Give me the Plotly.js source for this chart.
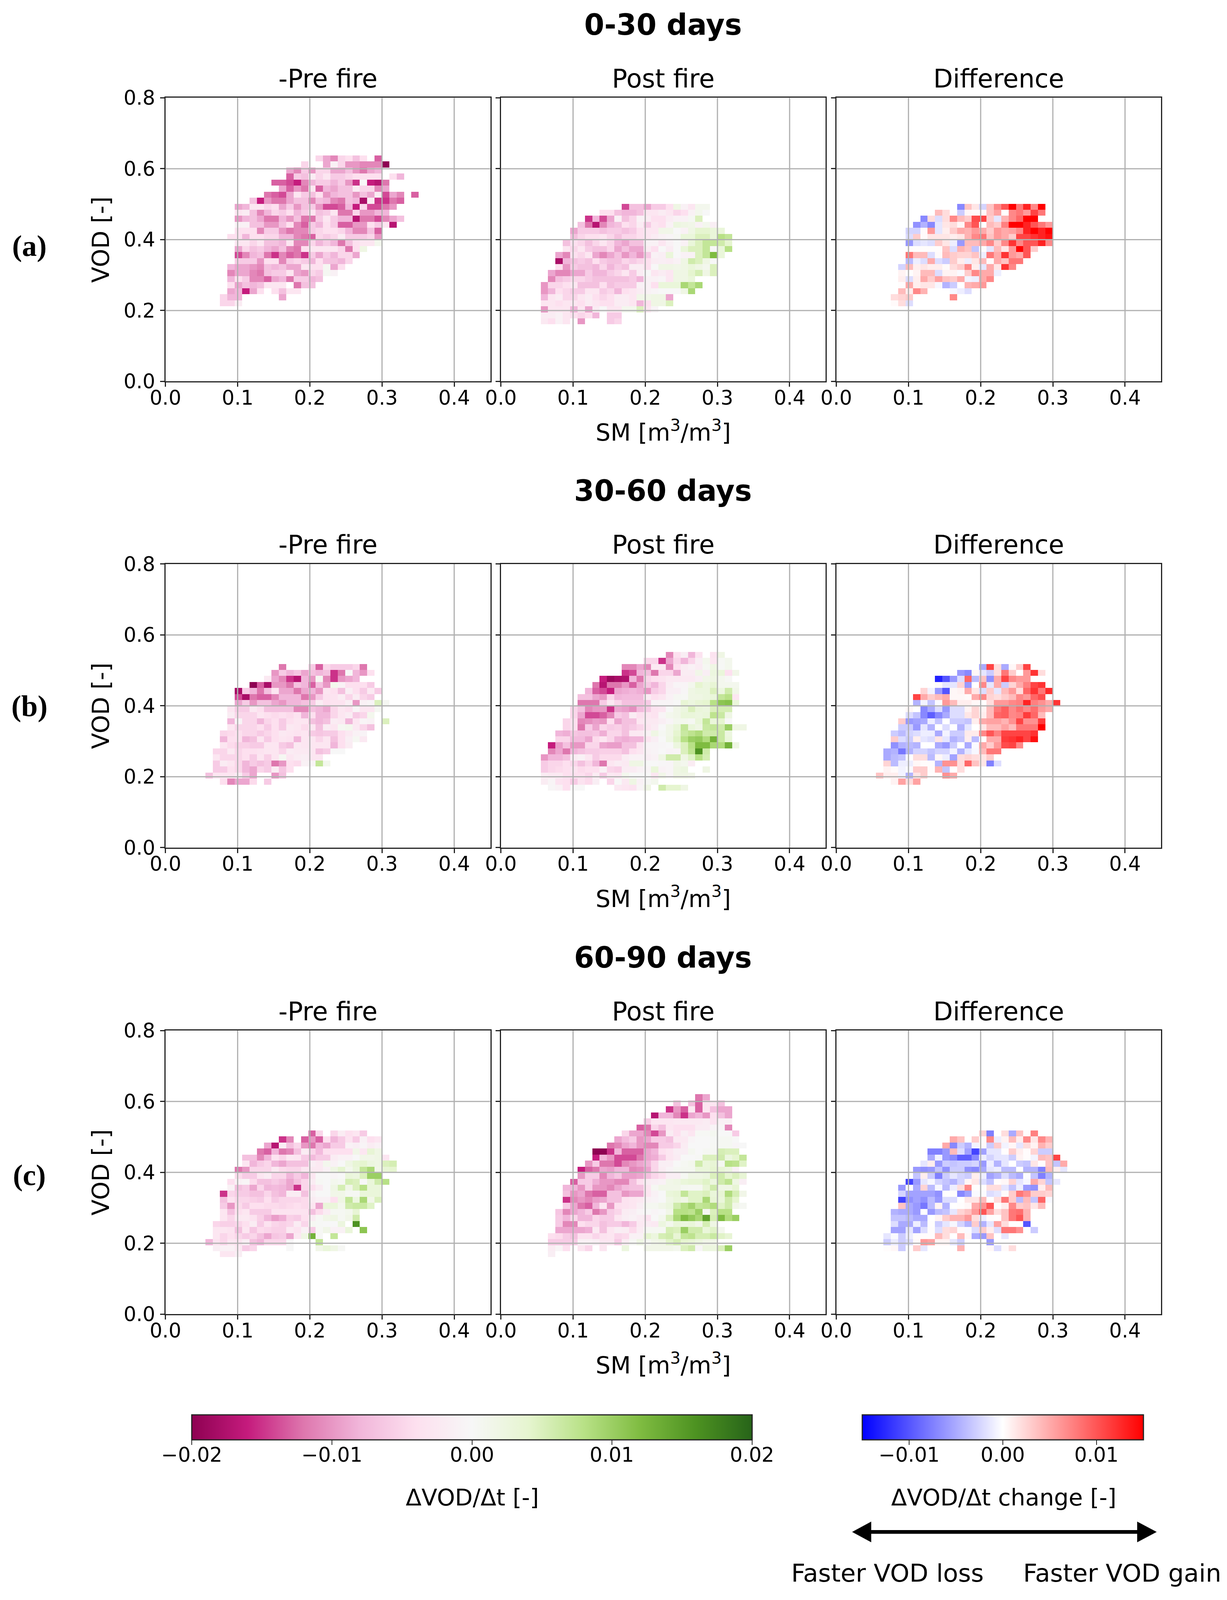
<!DOCTYPE html>
<html>
<head>
<meta charset="utf-8">
<script src="https://cdn.plot.ly/plotly-3.0.1.min.js"></script>
<style>html,body{margin:0;padding:0;background:#fff}</style>
</head>
<body>
<div id="plot"></div>
<script>
"use strict";
const _ = null;
// each row: [VOD bin, first SM bin, values in 0.001 units ...]
const preA = [
[36,20,-5,-9,-11,-5,-4,-7,-4,_,-13],
[35,18,-5,_,_,-9,-1,-5,-10,-10,-11,-11,-11,-20],
[34,16,-9,-11,-6,-10,-5,-5,-9,-9,-7,-10,-12,-9,-8],
[33,16,-13,-6,-7,-2,-5,-3,-6,-6,-5,-4,-4,-4,-4,_,-4,-8],
[32,14,-13,-13,-14,-16,-11,-8,-6,-6,-8,-6,-10,-15,0,-16,-17,-12],
[31,15,-9,-13,-10,-12,-3,-13,-8,-9,-7,-7,-2,-5,-5,-11,-9],
[30,13,-12,-13,-14,-9,-3,-6,-7,-4,-10,-8,-7,-7,-10,-7,-9,-2,-14,-9,-11,_,-13],
[29,11,-7,-16,-10,-12,-12,-9,-7,-7,-11,-7,-8,-11,-12,-7,-8,-18,-2,-15,-15,-12,-13],
[28,9,-9,-8,-3,-3,-5,-4,-9,-6,-10,-7,-6,-10,-14,-14,-13,-8,-16,-5,-14,-14,-12,-10],
[27,9,-3,-2,-7,-11,-8,-5,-6,-4,-8,-6,-3,-7,-6,-3,-12,-12,-5,-10,-10,-8,-8],
[26,9,-10,-8,-7,-9,-12,-12,-8,-10,-7,-12,-12,-6,-3,-6,-8,-8,-17,-12,-12,-14,-11,-9,-7],
[25,9,-1,-1,-7,-7,-10,-10,-7,-4,-11,-13,-6,-8,-4,-6,-13,-13,-10,-10,-4,-6,-3,-17],
[24,9,-4,-4,-4,-11,-6,-6,-10,-12,-11,-11,-6,-5,-4,-4,-5,-8,-11,-11,-7,-13],
[23,8,-4,-4,-8,-4,-4,-5,-5,-8,-8,-11,-12,-13,-5,-6,-5,-2,-6,-6,-6,-5,-10],
[22,9,-3,-3,-5,-3,-7,-7,-8,-3,-11,-11,-5,-8,-6,-8,-12,-7,-4,-3,-3,1],
[21,9,-9,-5,-7,-6,-8,-9,-7,-11,-12,-4,-3,-3,-3,-3,-5,-12,-4,2],
[20,9,-14,-11,-8,-7,-12,-15,-11,-13,-12,-15,-6,-9,-6,-8,-5,-5,-9],
[19,9,-6,-6,-6,-10,-4,-4,-11,-6,-5,-6,-8,-4,-7,-7,-8,-5],
[18,8,-8,-9,-9,-10,-11,-7,-8,-7,-9,-9,-3,-4,-4,0.5,-9,-4],
[17,8,-11,-9,-9,-11,-12,-7,-6,-6,-3,-9,-10,-5,-6,0.5,-1],
[16,8,-8,-4,-6,-11,-11,-13,-9,-8,-12,-6,-6,-8,-7],
[15,8,-4,-9,-7,-8,-7,-3,-3,-3,_,-12,-7,-7],
[14,8,-9,-8,-16,-9,-4,_,-4,-7,-3,-3],
[13,7,-5,-8,-8,_,_,_,_,_,-9],
[12,7,-5,-5,-2]
];
const postA = [
[28,16,-14,-7,-7,-9,-6,-6,-4,2,-1,-3,1,1],
[27,13,-4,-4,-7,-8,-8,-7,-3,-3,-2,-3,-5,-4,-1,1,0],
[26,11,-15,-8,-14,-9,-1,-7,-5,-1,-2,-4,-4,-2,-1,-1,0.5,5],
[25,10,-7,-12,-17,-11,-8,-7,-4,-5,-2,-6,-3,-4,-1,2.5,2,1.5,-1,1,-1.5],
[24,9,-9,-6,-6,-6,-7,-6,-6,-7,-6,-4,-3,-3,1.5,1.5,0,-1,2,4,4,3,3],
[23,9,-7,-5,-4,-4,-3,-5,-7,-5,-5,-4,-3,-2,-1,-0.5,0.5,3,3,5,5,3,8,7],
[22,8,-7,-4,-5,-7,-5,-3,-5,-8,-9,-7,-7,-1,-1,-3,-1,0,-1,3,5,7,7,6,4],
[21,8,-3,-5,-3,-6,-7,-7,-5,-9,-7,-9,-9,-2,-4,0,-2,0,3,5,5,7,0,3,8],
[20,7,-9,-11,-4,-5,-3,-9,-11,-9,-7,-10,-8,-10,-6,-1,-1.5,3,0,-1,-1,5,7,12,3],
[19,7,-18,-8,-7,-6,-7,-4,-6,-7,-7,-5,-6,-5,-4,-2,-1.5,-2,-1,2,6,5,2,0],
[18,7,-4,-10,-6,-7,-7,-8,-5,-8,-6,-7,-2,-2,-4,0,2,2,1.5,2,3,2,1,5],
[17,6,-9,-11,-11,-9,-9,-6,-8,-8,-6,-5,-3,-6,-2,0,-3,-2,-3,2,2,4,5.5,2,5],
[16,6,-11,-7,-6,-5,-5,-6,-7,-7,-7,-7,-7,-6,-8,-1,-1,-0.5,-3,2,2,3],
[15,5,-10,-5,-5,-4,-3,-7,-7,-7,-4,-7,-6,-6,-6,-1,-1,-4,3,3,3,9,7,9],
[14,5,-10,-8,-4,-5,-6,-6,-3,-3,-6,-5,-8,-4,-3,-2,-1,-0.5,0,0,0,2,9],
[13,5,-8,-3,-2,-5,-5,-3,-2,-4,-5,-4,-2,-2,-3,1.5,1.5,2,2,-9],
[12,5,-3,-3,-4,-3,-3,-4,-2,-3,-4,-4,-2,-2,-3,-8,-4,2,2,5],
[11,5,-10,-3,-3,-3,-8,-3,-9,-2,0,-3,-3,1,1,5,-3,-0.5],
[10,5,-2,-2,-1,-3,-4,-5,-4,-8,_,-6,-6],
[9,5,-2.5,-4,-1,-3,_,-10,_,_,_,-6,-5]
];
const diffA = [
[28,16,-7,3.5,1.5,-2.5,3.5,7,10,15,8,13,7,15],
[27,13,4,2,_,-3,0.5,0.3,0.3,3.5,5.5,0,7,8,6,11,8],
[26,11,-7,2,-2,2,7,4,3,10.5,11,3,-1.5,4.5,7,9,15,15],
[25,10,-6.5,-4.5,-7,-1.5,1.5,2,0.5,7,10,0,4,3,7.5,15,15,13,10,8,6],
[24,9,-2.5,-2.5,0.3,6,-1.5,1,3,5,4.5,6,5,3,6,5,5.5,7,13,15,13,15],
[23,9,-2,3,0.3,1.5,1.5,1.5,1,1.5,4.5,7,8,3.5,6,5,3,11,11,12,13,14],
[22,9,-6,-2,-1.5,-2,3,1.5,-1,-6,4,4,5,7,3,7,12,7,10,10,13,7],
[21,9,0.2,0.2,0.2,0.2,0.2,3.5,-2,4.5,3.5,-3.5,0.2,-1.5,4,1.5,6,15,10,3],
[20,9,8,4,4,-2,0.3,4,3,2.5,2.5,3.5,-1,8,5,12,6,5,10],
[19,9,-4,-1,-2,5,-2,-3,3,1,-1,1.5,4,0.3,5,3.5,8,8],
[18,8,-2.5,4,1,1.5,1,1,0.3,2,3,7,1,-1.5,5,1.5,12,7],
[17,8,0.7,0.1,0.7,4,4,-2,0.7,0.7,-0.3,3,7,5,5,-1],
[16,8,1,-2,1,5,3,5.5,3.5,3,5,-0.7,-1,5,7],
[15,8,0.1,5,1,1.5,1.5,-0.5,-4.5,-3,0,4.5,5,6],
[14,8,4,1,7,4.5,_,_,_,-0.5,-1,-2],
[13,7,2,2.5,3,_,_,_,_,_,7],
[12,7,0.3,2,-2]
];
const preB = [
[29,15,-12,_,_,_,-6,-13,-5,-6,-6,-6,-5,-12],
[28,14,-10,-6,-8,-6.5,-9,-7,-8,-7,-15,-12,0,-8,-10,-4],
[27,13,-2.5,-9,-11,-15,-17,-8,-10,0.5,-11,-15,-10,-9,-8],
[26,11,-20,-13,-18,-10,-10,-12,-7,-8,-13,-7,-10,1,-1,-4,-4,-4,-6],
[25,9,-18,-6,-8,-12,-7,-3,-9,-9,-12,-9,-8,-10,-3,-4,-7,-1.5,-4,-6,-2.5,-6],
[24,9,-14,-18,-12,-13,-13,-11,-8,-8,-8,-12,-10,-6,-3.5,-3.5,-2,-5,-2,-5,-6],
[23,9,-9,-6,-10,-7,-7,-9,-10,-8,-8,-7,-6,-2,-4,-3.5,-3.5,-1.5,-10,-1,-0.5,5,0.5],
[22,8,-3,-6,-6,-2.5,-4,-7,-7,-7,-7,-11,-11,-7,-8,-9,-5,-3,-4,-0.5,-3,-3,0.5],
[21,8,-2,-5,-5,-5,-3,-4,-4.5,-4,-4.5,-3.5,-8,-4,-8,-8,-5,-3,-2,-6,-5,1],
[20,8,-8,-0.5,-5,-5,-8,-5,-4,-6,-4,-3,-3,-7,-8,-7,-2,-2.5,-8,-3,-0.5,-1,_,5],
[19,8,-3,-5,-5,-5,-4,-6,-4,-6,-2.5,-3,-4.5,-3,-7,-2,-3,0.5,1,-2.5,-5,-7],
[18,7,-5,-4.5,-4,-5,-5,-6,-5,-4,-2.5,-3,-3.5,-3,-6,-6.5,-6,-6,-4,-2.5,-1,-0.7],
[17,7,-8,-4,-4,-8,-7,-3,-6,-4,-3,-3.5,-8,-3,-3,-5,-3,-7,-4,-1.5,0.5,-2.5],
[16,7,-3,-4.5,-5.5,-5.5,-6,-6,-3,-3,-6,-7,-2.5,-3,-3,-3,-3,-8,-4,-2],
[15,6,-5,-5,-2.5,-5,-4,-4,-3.5,-3,-3,-5,-2,-2.5,-2.5,-3,-7,-6,0,0],
[14,6,-3,-5,-5,-5,-4,-6,-3,-5.5,-3,0.5,-3,-2,-1.5,-3,-3],
[13,6,-6,-2,-3,-5,-8,-6,-7,-6,-12,-10,-4,-4.5,-1,-0.5,7,1],
[12,6,-6,-6,-4,-5,-8,-9,-5,-6,-2,-6.5,-4],
[11,5,-7,-3,-3,-3,-2,-6,-9,_,_,-10,-7],
[10,7,-4,-11,-9,-9,-4.5,_,-6]
];
const postB = [
[31,22,-11,-4,-1.5,-8,-3.5,_,-3.5,2],
[30,19,-5,-5,-15,-9,-5,-8,-5,-1.5,1,-3,0.3,1],
[29,16,-11,-11,-9,-11,-2.5,-2.5,-11,-4,-2,-1,-2,0.5,2,0.2,1],
[28,16,-15,-14,-8,-7,-12,-5,-5,-9,-2,-2,1.5,-1.5,2.5,3,-4,1.5],
[27,13,-16,-19,-18,-17.5,-8,-12,-5,-4,-3.5,-2.5,-2.5,-2.5,-2.5,-1.5,1.5,2,1,0.3],
[26,12,-12,-17,-12,-12,-10,-13,-9,-6,-8,-5,-2,-0.5,-0.5,1,4,2.5,3.5,1,1,1],
[25,11,-8,-13,-14,-16,-9,-8.5,-8,-8.5,-10,-6,-5,-1.5,-1.5,-0.3,2,2.5,2.5,5,2.5,6,1.5],
[24,10,-7,-7,-9,-10,-5,-8,-7.5,-7.5,-7.5,-2,-4,-3,-1,0.5,0.3,2,2,2.5,3,7,8,-3],
[23,10,-12,-12,-12,-6,-2.5,-5,-7,-7,-7,-6,-0.7,-0.5,-0.5,0,3.5,2.5,3.5,4,8,11,11.5,3],
[22,9,-5,-7,-11,-10,-10,-15,-9,-9.5,-10.5,-7.5,-6,-3.5,-3,0,1.5,2.5,5,3,2.5,5,5.5,5.5],
[21,9,-5,-9,-14,-14,-13,-11,-6,-7,-2,-4,-3,-3.5,-0.5,1,1.5,3,3,2.5,3,7.5,6.5,2],
[20,8,-5,-4,-11,-10.5,-9.5,-10,-4,-9,-7,-7,-3,-2.5,-2.5,-1.5,-0.5,1,1,0.5,3,7,3,4,0],
[19,8,-5,-4,-12,-6,-9,-5,-6,-5.5,-7,-6,-5,-3,-2,0,1.5,3,7,3,2,6.5,7,6,10,2,2],
[18,7,-8,-8.5,-6.5,-7,-7,-6.5,-8.5,-5,-5,-7,-2.5,-2.5,-1,2,0.5,1.5,4,6.5,7.5,8.5,6,6,6.5,2.5],
[17,7,-5,-5,-7.5,-7.5,-9,-4.5,-3,-5,-8,-8.5,-8,-8,-3,-1.5,0,2,4.5,8,10,10.5,8.5,13,6.5,3],
[16,6,-16,-9.5,-7,-10,-10,-5,-5,-9,-9.5,-9.5,-7,-7,-3.5,-0.7,-0.7,-0.3,0,2.5,5,8,12,12,9,8.5,13,2],
[15,6,-11,-9,-12,-8,-7,-6,-6,-5.5,-5.5,-5.5,-7,-4,-3,-1,-0.7,0,-0.7,-0.5,5,7.5,16,6],
[14,5,-10,-8,-8,-7,-2,-1,-3,-6,-4.5,-4.5,-4.5,-2,-1,-1,-1.5,-1,2,6,6,2,4.5,8,5.5],
[13,5,-6,-5,-5,-4,-5,-7,-5,-8,-12,-3,-2,-2.5,2,2,0,0,-0.3,-0.5,1.5,1,-2],
[12,5,-6,-5,-4.5,-4,-3.5,-4.5,-4,-4,-1,-5,-5.5,-2,-2,-1,-0.5,3,-1,-0.5,2,2.5,_,_,2],
[11,5,-2,-2.5,-2.5,-4,-4,-4,-5,-2,-6,-2.5,-3,1,0,0,0,-3,1.5,-0.5,2,2,1.5],
[10,5,-2,-0.5,-3.5,-4,-6,-3.5,-4.5,-1.5,_,-5,0,-2.5,2,-1,0.3,1],
[9,6,-0.3,-1,-4,0,0,_,_,_,_,-2.5,-3,-3.5,-0.5,2,_,6,4,4,2]
];
const diffB = [
[29,19,-5,11,2,-5,0.5,3,11],
[28,16,-6,-7,0.5,-1.5,-3,2,8,3,0,6,12,2],
[27,13,-13,-10,-6,-2,9,-4,3.5,-6.5,5,11,7,6,6],
[26,13,0.3,-1.5,-1.5,2.5,-6,0,7,-1.5,5,-3,2.5,5,7.5,11,12],
[25,11,2.5,-0.7,-6,-10,0.5,0.7,5,1.5,-2,3,-1.5,4,6,2,9,12,8,12.5],
[24,10,11,5,3,4,5,0.5,0.5,0.3,5,7,2.5,2,3,4,7,6,9,10.5],
[23,10,-4.5,-0.7,-3.5,-0.3,6,4,1,1,0.5,0,2,6,6,7,7.5,13,7.5,6.5,5,12],
[22,9,0.5,0,-7,-5,-2,-6,-2,-2,0.7,2.5,0.7,4,8,9.5,7,8.5,7,8.5,6,5],
[21,9,-2,-3.5,-7,-9.5,-7,-5,-2,-2,1.5,2.5,1,4,9,9.5,7,7.5,11.5,9,4],
[20,8,3,-6,-5.5,-5,-1,-3.5,0,-3,-3,-3.5,1,5,5.5,5.5,4.5,6.5,11,6.5,6.5,11.5],
[19,8,-3,-3,-6,-1.5,-4.5,0,-2,0,-4.5,-1.5,0,1.5,4,4,5.5,4,8,8,8,15],
[18,7,-3,-4,-2.5,-2,-1,-1,-5,-0.7,-3,-3,1.2,1.2,7,10,7.5,11,11,11,11,12],
[17,7,3,-2,-3,1,-1.5,-2,1.5,-1.5,-4.5,-3.5,1,-4,0,5,5,11.5,12,13,11,14],
[16,7,-6.5,-4.5,-4,-4.5,0,0,-5,-6,-3,0,-5,-0.3,5,3,6,10.5,11,7],
[15,6,-5,-4.5,-8,-4.5,-2.5,-2.5,-3.5,-2.5,-2.5,-0.7,-4.5,-1.5,-0.5,4,8,8],
[14,6,-5,-4,-3.5,0,2,2,-4,0.5,-1,-5.5,2,2.5,2,1.5,3],
[13,6,2.5,-4,-1,-1,0.5,0.2,0.2,-4.5,6.5,6.5,2,9,3.5,1.5,-7.5,-2],
[12,6,0.7,0.3,-0.7,-0.3,3,3,0.2,4.5,-3.5,0,2],
[11,5,3.5,1,1,-0.7,-4.5,1.5,3,_,_,6.5,5],
[10,7,0.7,5.5,2,5.5]
];
const preC = [
[29,19,-13,-5,_,-5,-2,-4,-3,-6],
[28,15,-15,-11,_,-13,-10,-13,-4,-8,-6,-3.5,-6,-1,-4,-3],
[27,13,-9,-17,-1.5,-7,-5,-10,-12,-8,-9,-6,-6,-1,-1.5,-0.5,-2,-1],
[26,12,-12,-13,-8,-12,-11,-7,-2,-5,-7.5,-4,-4,-4,-4,1.5,-3,3.5,2],
[25,10,-7,-7,-11,-8,-3.5,-5,-2.5,-3,-6,-7.5,-6,-6,-2,-1,-1,0,1.5,1.5,2,-3],
[24,10,-3,-8,-6,-5,-8,-9,-7,-7,-7,-1.5,-2.5,1,-1,0,2,3.5,4,2.5,2,5,5.5],
[23,9,-12,-10,-5,-5,-5,-2.5,-4.5,-5,-5,-3,-2.5,-2.5,-1,2,4,1,3,7,9,1.5,3.5,4],
[22,9,-4.5,-6,-6,-3,-2,-5,-5,-8,-6,-8,-3,0,0,-0.5,0,3,2.5,5,10,10],
[21,8,-4,-1,-0.5,-4.5,-7,-7,-6,-7,-9,-7,-5,-2,0.3,0,1,0.5,5.5,5,0,3,6,8],
[20,8,-1,-7,-6,-9,-5,-8,-7.5,-8,-9,-15,-5,-4,-2,0,2,5.5,1.5,5,8,3,3],
[19,7,-15,-5,-6,-6,-7,-7,-5,-7,-8,-2,-2,-7,-1,0,0,1.5,1.5,0.5,0.5,3,3,3],
[18,7,-7,-3.5,-5,-5,-5.5,-6,-4,-6,-5,-5,-5,-4.5,-2,-1,-1,-4,2,7,2.5,9,1.5,5],
[17,7,-6,-10,-4.5,-6,-4,-4,-4.5,-4.5,-5,-4.5,-4,-4.5,-3,-9,3,3,1,6,6.5,6.5,4.5],
[16,7,-3,-7,-4,-3,-6,-6,-6,-3.5,-3.5,-3.5,-3.5,-3.5,-7,-4.5,-2,0.5,0.5,1,3.5],
[15,7,-3,-5,-2.5,-2.5,-3.5,-5.5,-8,-9.5,-8.5,-5.5,-6,-4,-2,0.3,1.5,2,0.5,1.5,6],
[14,6,-5,-5.5,-5.5,-5,-4,-2,-6,-3.5,-5,-5.5,-5,-2,-5,0.5,0.2,0,0,2.5,_,16],
[13,6,-3,-3,-3.5,-7,-3,-6.5,-4.5,-5,-5.5,-5.5,-2.5,-3.5,-1,-6,0.3,1.5,-1,-1,3,_,11],
[12,6,-3,-5,-4,-5,-6,-5,-7,-9,-6.5,-6,-9,-2.5,2,13,0.3,_,7],
[11,5,-8,-3.5,-5,-3,-3.5,-1.5,-7,-8,-5,-5,-5,-0.3,_,_,_,7],
[10,6,-1.5,-1,-1,-2.5,-6,-5,_,_,_,_,0,_,_,_,1.5,3,2,0.3],
[9,7,-3,-3,-1.5]
];
const postC = [
[35,26,-12,-9],
[34,23,-7,_,-7,-13,-3,-3,-7],
[33,22,-15,-10,-13,-2.5,-13,-3,-7,-9,-9],
[32,20,-17,-8,-8,-11,-15,-9,-8,-10,-4,-7,-9],
[31,19,-6,-3,-3,-3,-2.5,-2.5,-2.5,-2.5,-2,-3.5,-1,-1],
[30,18,-13,-12,-5,-7,-3,-4,-4,-4,-2,-2,-0.7,-0.3,-11],
[29,16,-5,-9,-9,-11,-14,-10,-2,-4,-1.5,-3,0.3,0.3,0.7,0,0,-6],
[28,15,-9,-7.5,-6,-10,-9,-6,-6,-7,-2.5,-2.5,-0.5,0,0,0.2,0.5,0.5,0],
[27,14,-12,-11,-9,-8,-10,-11,-11,-6,-6,-5,-2,0,0,0,0.3,0.5,0.5,-0.5,0],
[26,12,-20,-20,-15,-8,-13,-13,-13,-9,-8,-4,-3,-1.5,-1.5,0.7,0,0.5,0.5,5.5,5,5],
[25,12,-16,-8,-10,-14,-14,-14,-12,-9,-8.5,-6,-3,-2,0,0,0.3,5,5,6,2.5,4,7],
[24,11,-10,-6,-12,-12,-14,-11,-10,-9,-8,-5,-1.5,-1.5,0,0.5,1,6,3,3.5,0.7,8,7.5,4.5],
[23,10,-16,-13,-12,-9,-9.5,-8,-8,-11,-10.5,-9,-5,-2,-0.7,0.5,0.7,0.7,3,3,4,3.5,2.5,-1],
[22,10,-10,-6,-6,-11,-8,-6.5,-9.5,-9.5,-9,-7,-5,-4,-1.5,-1.5,0.5,2,2,2.5,5,6,4,5,3.5],
[21,9,-13,-6,-6,-8.5,-10,-10,-11,-11,-7,-4,-2,-1.5,-1,1.5,2,3,3.5,3.5,4.5,2.5,6,7.5,2,-1.5],
[20,8,-8,-8,-10,-6,-10,-10,-11,-9,-7.5,-7,-7,-3,0.5,1.5,1.5,1.5,0.7,0.5,0.5,3.5,6,2,2,3.5],
[19,8,-7,-10,-9,-12,-13,-13,-7,-7,-10,-9,-9,-3,-1,0,3,3.5,7,4.5,4.5,5,3,3.5,8.5,5.5,1.5],
[18,8,-15,-11,-10,-11,-9.5,-9,-7,-7,-3.5,-3,-2.5,-1,-0.7,0,2,3,2,4.5,4.5,9,3.5,3,6,4],
[17,8,-6,-9,-12,-13,-8,-3,-10,-4,-3.5,-3,-1.5,0.7,0.7,1.5,2.5,6,8,9.5,7,7.5,8.5,4.5,6,1.5,0.5],
[16,7,-6.5,-11,-9,-8,-6,-12,-10,-6,-5,-2,-1.5,-0.5,0,-0.5,0,1.5,8,8,7.5,10,0.5,5,8,8],
[15,7,-6,-8,-5,-8,-8,-5,-6,-6,-3,-1.5,-1,-2,-3.5,0,1,5,9,12,10.5,9,14.5,5.5,12,8.5,10],
[14,7,-6,-11,-11,-4,-5,-5,-7,-6,-6,-8,-6,-2.5,-2,-2.5,2.5,1,3,2.5,3,1.5,5.5,2],
[13,7,-9,-9,-9,-9,-8.5,-2.5,-7,-3,-1.5,-2,-4.5,-2,0.5,0.5,0.5,5.5,5,10,6,6,3,4.5,1],
[12,6,-4,-4.5,-6,-7,-3.5,-3.5,-5,-3.5,-3,-5,-4.5,-1,-1,4,2.5,5.5,6,3.5,7,7.5,5.5,5.5,6.5,4.5,3.5],
[11,6,-6,-6,-6,-6,-1,-1,-1.5,-3,-3,-6,-2,0.3,2,0.5,1.5,2,4.5,5.5,4,3.5,2.5,1.5,1.5],
[10,6,-2,-0.5,-4,_,-3,-5,_,-3,_,_,2.5,_,_,1.5,1.5,1.5,1.5,1,5,6,-0.3,2.5,2.5,5,10],
[9,6,-1.5]
];
const diffC = [
[29,19,2.5,-7.5,_,2,-5,3.5,0.2,7.5],
[28,15,5,3.5,_,3,0.2,7,-1,0.7,4,1,7,1.5,7,4.5],
[27,14,5,-7,-3,-4.5,-0.7,0.3,-3,3,-0.7,0.5,-1.5,2,0.7,4.5,3],
[26,12,-7.5,-7.5,-6,4,-2,-5.5,-11,-5.5,-1.5,-1.5,0.1,3,1,0.2,2.5,-3,-3],
[25,12,-5,-0.7,-6,-7,-9.5,-9.5,-7,-1,-2.5,-1.5,-1.5,-3,0.7,0.2,-0.7,4,3.5,11],
[24,11,-1.5,1,-6,-3,-3.5,-3,-3,-2.5,-6,-1,-4.5,-1.5,0,-3,-3.5,1.5,0.1,3.5,-3.5,5],
[23,10,-6,-6.5,-6,-3.5,-6.5,-3,-3,-6.5,-7,-5,-1.5,-1,-4,-4,0,-4.5,-4.5,-7.5,4,1,-1.5],
[22,10,-3.5,1,-3,-7.5,-3,-1.5,-2.5,-3,1,-1,-5.5,-4.5,-2,-4,-5,-0.2,-3.5,-7.5,-4.5],
[21,9,-11,-6,-1.5,-0.5,-2.5,-3.5,-4.5,-2.5,0.5,1.5,-2,-3.5,0.2,0.5,2.5,-1.5,-0.5,5,2.5,-3.5,-1.5],
[20,8,-6,0,-5,2.5,-4,-0.5,-4,-1,2,7,0.1,0.1,2,2,-1.5,-3.5,-1,-6,-6.5,1,4],
[19,8,-2.5,-5.5,-5.5,-5.5,-5.5,-6.5,0.1,0.1,-7,-5.5,-0.3,-0.2,-2,-1.5,0.3,3,8,6.5,3,3,2.5],
[18,8,-11,-6.5,-5.5,-6.5,-4,-6,-2,-2,0,1.5,1.5,4,0,2,8,3,-4,4,-3.5,9,-0.5],
[17,8,3.5,-5,-6,-8,-4,0.7,-4.5,0,0.1,0.5,5,6.5,10,0.1,1,7,3,3.5,1.5,4],
[16,7,-4.5,-5,-5,-6,0,-6,-4,-3.5,-1.5,2.5,3.5,6,10,5.5,2,3.5,8,8.5,4.5],
[15,7,-3.5,-3.5,-4,-5,-5,0,0.7,3,4.5,4.5,6,2,-1,0.2,0.1,3.5,8,10,4.5],
[14,7,-2,-5,-5,-1,-4,0.1,-3,-1.5,-0.5,-2.5,-4.5,3,-4.5,-1.5,5.5,2,0,0,-10],
[13,7,-5.5,-5.5,-1.5,-5.5,-2,0.2,-2,2,2.5,0.3,-0.3,-2,3,1,-2,8,8,6.5,_,-3],
[12,6,-1.5,-0.3,-3,-1,0.2,0.2,0.2,4,2,0,4,0.5,-5,-6,3.5,_,-1.5],
[11,6,-3,-1.2,-3,-2,0.3,6,5.5,0.7,0.7,-1.5,-3,_,_,_,-6],
[10,6,0.2,0.5,-3,_,3,-1.5,_,_,_,_,4.5,_,_,_,0.5,-2,0.3,2]
];

const unit = 0.001;
const panelData = [preA, postA, diffA, preB, postB, diffB, preC, postC, diffC];
const rowTitles = ['0-30 days', '30-60 days', '60-90 days'];
const rowTags = ['(a)', '(b)', '(c)'];
const colTitles = ['-Pre fire', 'Post fire', 'Difference'];
const xTicks = [0, 0.1, 0.2, 0.3, 0.4];
const xLabels = ['0.0', '0.1', '0.2', '0.3', '0.4'];
const yTicks = [0, 0.2, 0.4, 0.6, 0.8];
const yLabels = ['0.0', '0.2', '0.4', '0.6', '0.8'];
const rateTicks = [-0.02, -0.01, 0, 0.01, 0.02];
const rateLabels = ['\u22120.02', '\u22120.01', '0.00', '0.01', '0.02'];
const changeTicks = [-0.01, 0, 0.01];
const changeLabels = ['\u22120.01', '0.00', '0.01'];

const piyg = [[0,'#8e0152'],[0.1,'#c51b7d'],[0.2,'#de77ae'],[0.3,'#f1b6da'],[0.4,'#fde0ef'],[0.5,'#f7f7f7'],
  [0.6,'#e6f5d0'],[0.7,'#b8e186'],[0.8,'#7fbc41'],[0.9,'#4d9221'],[1,'#276419']];
const bwr = [[0,'#0000ff'],[0.5,'#ffffff'],[1,'#ff0000']];

// positions below are read off the 3142x4326 reference, but the photo stops at 4096,
// so the figure is drawn 4096 high and everything keeps its share of the height
const W = 3142, H = 4326, drawnH = 4096;
const font = 'DejaVu Sans, sans-serif';
const px = x => x / W;
const py = y => 1 - y / H;

const colLeft = [423.7, 1282.6, 2141.5];
const rowTop = [264.5, 1525, 2786.5];
const tagY = [665, 1909, 3177];
const panelW = 831.8, panelH = 766.8;

function toGrid(rows) {
  const z = [];
  for (let r = 0; r < 38; r++) z.push(new Array(39).fill(null));
  for (const row of rows) {
    row.slice(2).forEach((v, i) => { z[row[0]][row[1] + i] = v === null ? null : v * unit; });
  }
  return z;
}

const traces = [];
const layout = {
  width: W, height: drawnH, margin: {l: 0, r: 0, t: 0, b: 0}, paper_bgcolor: '#fff', plot_bgcolor: '#fff',
  showlegend: false, annotations: [], shapes: [], font: {family: font, color: '#000'}
};

function note(text, x, y, size, family) {
  layout.annotations.push({
    text: text, xref: 'paper', yref: 'paper', x: px(x), y: py(y), xanchor: 'center', yanchor: 'middle',
    showarrow: false, font: {family: family || font, size: size, color: '#000'}
  });
}

// tick labels of the colour bars sit closer than plotly puts them, so they are notes
function barOpts(x0, x1, zmax, ticks, labels) {
  ticks.forEach((v, i) => note(labels[i], x0 + (v + zmax) / (2 * zmax) * (x1 - x0), 3934, 51));
  return {
    orientation: 'h', thicknessmode: 'pixels', thickness: 64, lenmode: 'fraction', len: (x1 - x0) / W,
    x: px((x0 + x1) / 2), xanchor: 'center', y: py(3825), yanchor: 'top', xpad: 0, ypad: 0,
    outlinewidth: 3, outlinecolor: '#222', borderwidth: 0,
    ticks: 'outside', ticklen: 12, tickwidth: 2, tickcolor: '#222', tickmode: 'array',
    tickvals: ticks, ticktext: labels, showticklabels: false
  };
}

panelData.forEach((rows, i) => {
  const row = Math.floor(i / 3), col = i % 3;
  const id = i === 0 ? '' : String(i + 1);
  const isDiff = col === 2;
  const tr = {
    type: 'heatmap', z: toGrid(rows), x0: 0.0093, dx: 0.0102, y0: 0.01621, dy: 0.01702,
    xaxis: 'x' + id, yaxis: 'y' + id, hoverinfo: 'skip',
    colorscale: isDiff ? bwr : piyg, zmin: isDiff ? -0.015 : -0.02, zmax: isDiff ? 0.015 : 0.02,
    showscale: false
  };
  if (i === 0) { tr.showscale = true; tr.colorbar = barOpts(491, 1926, 0.02, rateTicks, rateLabels); }
  if (i === 2) { tr.showscale = true; tr.colorbar = barOpts(2208, 2928, 0.015, changeTicks, changeLabels); }
  traces.push(tr);

  const axisBase = {
    showgrid: false, zeroline: false, showline: true, mirror: true, linecolor: '#222', linewidth: 3,
    ticks: 'outside', ticklen: 11, tickwidth: 3, tickcolor: '#222', tickmode: 'array',
    tickfont: {family: font, size: 51, color: '#000'}
  };
  const xa = Object.assign({}, axisBase, {
    domain: [px(colLeft[col]), px(colLeft[col] + panelW)], range: [0, 0.45], anchor: 'y' + id,
    tickvals: xTicks, ticktext: xLabels, ticklabelstandoff: -16
  });
  const ya = Object.assign({}, axisBase, {
    domain: [py(rowTop[row] + panelH), py(rowTop[row])], range: [0, 0.8], anchor: 'x' + id,
    tickvals: yTicks, ticktext: yLabels, showticklabels: col === 0, ticklabelstandoff: 2
  });
  if (col === 1) {
    xa.title = {text: 'SM [m<sup>3</sup>/m<sup>3</sup>]', font: {family: font, size: 60, color: '#000'}, standoff: 40};
  }
  if (col === 0) {
    ya.title = {text: 'VOD [-]', font: {family: font, size: 60, color: '#000'}, standoff: 18};
  }
  layout['xaxis' + id] = xa;
  layout['yaxis' + id] = ya;

  // matplotlib draws the grid over the cells
  const gridLine = {line: {color: '#b0b0b0', width: 3}, layer: 'above', type: 'line'};
  xTicks.slice(1).forEach(v => {
    layout.shapes.push(Object.assign({xref: 'x' + id, yref: 'y' + id + ' domain', x0: v, x1: v, y0: 0, y1: 1}, gridLine));
  });
  yTicks.slice(1, 4).forEach(v => {
    layout.shapes.push(Object.assign({xref: 'x' + id + ' domain', yref: 'y' + id, x0: 0, x1: 1, y0: v, y1: v}, gridLine));
  });

  note(colTitles[col], colLeft[col] + panelW / 2, rowTop[row] - 52, 65);
});

rowTitles.forEach((t, r) => {
  note('<b>' + t + '</b>', 1698, rowTop[r] - 198, 74);
  note('<b>' + rowTags[r] + '</b>', 75, tagY[r], 76, 'Liberation Serif, serif');
});

note('\u0394VOD/\u0394t [-]', 1209, 4049, 59);
note('\u0394VOD/\u0394t change [-]', 2570, 4049, 59);
note('Faster VOD loss', 2272, 4254, 63);
note('Faster VOD gain', 2873, 4254, 63);

// double headed arrow under the change colour bar
const arrowY = 4142;
const arrowPath = [[2182, 0], [2231, -28], [2231, -5], [2912, -5], [2912, -28], [2962, 0], [2912, 28], [2912, 5], [2231, 5], [2231, 28]]
  .map((p, i) => (i ? 'L' : 'M') + px(p[0]) + ',' + py(arrowY + p[1])).join(' ') + ' Z';
layout.shapes.push({type: 'path', xref: 'paper', yref: 'paper', path: arrowPath, fillcolor: '#000', line: {width: 0}, layer: 'above'});

Plotly.newPlot('plot', traces, layout, {displayModeBar: false, staticPlot: true});
</script>
</body>
</html>
